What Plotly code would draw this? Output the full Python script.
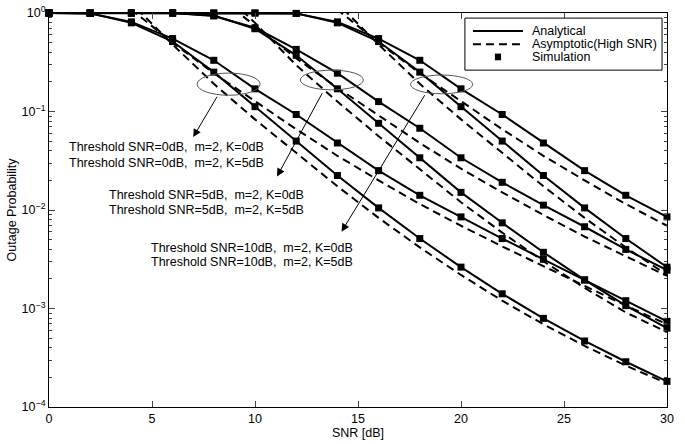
import plotly.graph_objects as go

# ---------------- data ----------------
snr = [0, 2, 4, 6, 8, 10, 12, 14, 16, 18, 20, 22, 24, 26, 28, 30]

# Analytical outage probability
t0_k0 = [1.0, 0.989, 0.813, 0.550, 0.331, 0.170, 0.0933, 0.0479, 0.0251, 0.0141, 0.00851, 0.00513, 0.00316, 0.00195, 0.00120, 0.000741]
t0_k5 = [1.0, 0.991, 0.794, 0.513, 0.251, 0.112, 0.0501, 0.0224, 0.0105, 0.00513, 0.00263, 0.00141, 0.000794, 0.000468, 0.000288, 0.000182]
t5_k0 = [1.0, 1.0, 1.0, 1.0, 0.933, 0.708, 0.427, 0.245, 0.126, 0.0676, 0.0339, 0.0191, 0.0112, 0.00676, 0.00398, 0.00245]
t5_k5 = [1.0, 1.0, 1.0, 1.0, 0.944, 0.692, 0.372, 0.170, 0.0759, 0.0339, 0.0151, 0.00741, 0.00372, 0.00195, 0.00107, 0.000631]
t10_k0 = [1.0, 1.0, 1.0, 1.0, 1.0, 1.0, 0.989, 0.813, 0.550, 0.331, 0.170, 0.0933, 0.0479, 0.0251, 0.0141, 0.00851]
t10_k5 = [1.0, 1.0, 1.0, 1.0, 1.0, 1.0, 0.991, 0.794, 0.513, 0.251, 0.112, 0.0501, 0.0224, 0.0105, 0.00513, 0.00263]

# Asymptotic (high SNR) approximation
a_t0_k0 = [None, 2.34, 1.072, 0.501, 0.245, 0.126, 0.0661, 0.0355, 0.0200, 0.0115, 0.00692, 0.00427, 0.00269, 0.00170, 0.00107, 0.000692]
a_t0_k5 = [None, 3.16, 1.259, 0.479, 0.191, 0.0832, 0.0380, 0.0174, 0.00832, 0.00417, 0.00219, 0.00120, 0.000692, 0.000417, 0.000263, 0.000174]
a_t5_k0 = [None, None, None, 3.55, 1.585, 0.741, 0.347, 0.174, 0.0912, 0.0479, 0.0263, 0.0151, 0.00891, 0.00537, 0.00339, 0.00214]
a_t5_k5 = [None, None, None, None, 1.995, 0.794, 0.295, 0.126, 0.0562, 0.0257, 0.0120, 0.00589, 0.00302, 0.00162, 0.000912, 0.000575]
a_t10_k0 = [None, None, None, None, None, None, 2.34, 1.072, 0.501, 0.245, 0.126, 0.0661, 0.0355, 0.0200, 0.0115, 0.00692]
a_t10_k5 = [None, None, None, None, None, None, 3.16, 1.259, 0.479, 0.191, 0.0832, 0.0380, 0.0174, 0.00832, 0.00417, 0.00219]

# Simulation points
s_t0_k0 = t0_k0
s_t0_k5 = t0_k5
s_t5_k0 = t5_k0
s_t5_k5 = t5_k5
s_t10_k0 = t10_k0
s_t10_k5 = t10_k5

analytic = [t0_k0, t0_k5, t5_k0, t5_k5, t10_k0, t10_k5]
asymptotic = [a_t0_k0, a_t0_k5, a_t5_k0, a_t5_k5, a_t10_k0, a_t10_k5]
simulation = [s_t0_k0, s_t0_k5, s_t5_k0, s_t5_k5, s_t10_k0, s_t10_k5]

legend_names = ["Analytical", "Asymptotic(High SNR)", "Simulation"]
y_tick_vals = [1e-4, 1e-3, 1e-2, 1e-1, 1]
y_tick_text = ["10<sup>\u22124</sup>", "10<sup>\u22123</sup>", "10<sup>\u22122</sup>", "10<sup>\u22121</sup>", "10<sup>0</sup>"]
y_minor_vals = [m * d for d in (1e-4, 1e-3, 1e-2, 1e-1) for m in range(2, 10)]
x_tick_vals = [0, 5, 10, 15, 20, 25, 30]

label_lines = [
    ["Threshold SNR=0dB,\u00a0 m=2, K=0dB", "Threshold SNR=0dB,\u00a0 m=2, K=5dB"],
    ["Threshold SNR=5dB,\u00a0 m=2, K=0dB", "Threshold SNR=5dB,\u00a0 m=2, K=5dB"],
    ["Threshold SNR=10dB,\u00a0 m=2, K=0dB", "Threshold SNR=10dB,\u00a0 m=2, K=5dB"],
]

FONT = "Liberation Sans, Arial, Helvetica, sans-serif"

fig = go.Figure()

for i, y in enumerate(analytic):
    fig.add_trace(go.Scatter(x=snr, y=y, mode="lines",
                             line=dict(color="black", width=2),
                             name=legend_names[0], showlegend=False))
for i, y in enumerate(asymptotic):
    fig.add_trace(go.Scatter(x=snr, y=y, mode="lines",
                             line=dict(color="black", width=2, dash="8px,5px"),
                             name=legend_names[1], showlegend=False, connectgaps=False))
for i, y in enumerate(simulation):
    fig.add_trace(go.Scatter(x=snr, y=y, mode="markers",
                             marker=dict(symbol="square", size=7, color="black"),
                             name=legend_names[2], showlegend=False, cliponaxis=False))


def py(v):
    """log10 value -> paper y"""
    return (v + 4.0) / 4.0


def px(x):
    return x / 30.0


# ellipses (paper coordinates)
ellipses = [(7.19, 10.25, -0.61, -0.835), (12.2, 15.26, -0.58, -0.78), (17.55, 20.57, -0.63, -0.82)]
for x0, x1, y0, y1 in ellipses:
    fig.add_shape(type="circle", xref="paper", yref="paper",
                  x0=px(x0), x1=px(x1), y0=py(y0), y1=py(y1),
                  line=dict(color="#555555", width=1), layer="above")

# arrows
arrows = [((7.0, -1.26), (8.2, -0.835)), ((11.07, -1.66), (13.3, -0.80)), ((14.2, -2.22), (18.28, -0.82))]
for (hx, hy), (tx, ty) in arrows:
    fig.add_annotation(x=hx, y=hy, ax=tx, ay=ty, xref="x", yref="y", axref="x", ayref="y",
                       text="", showarrow=True, arrowhead=2, arrowsize=1.6, arrowwidth=1,
                       arrowcolor="black")

# labels
label_pos = [(5.68, -1.362, -1.524), (7.63, -1.849, -2.0), (9.84, -2.386, -2.528)]
for (x, y1, y2), lines in zip(label_pos, label_lines):
    for yy, txt in zip((y1, y2), lines):
        fig.add_annotation(x=x, y=yy, xref="x", yref="y", text=txt, showarrow=False,
                           font=dict(size=12.5, color="black", family=FONT))

# legend box drawn manually (paper coordinates)
fig.add_shape(type="rect", xref="paper", yref="paper", x0=0.673, x1=0.992, y0=0.855, y1=0.987,
              line=dict(color="black", width=1), fillcolor="white", layer="above")
fig.add_shape(type="line", xref="paper", yref="paper", x0=0.686, x1=0.767, y0=0.954, y1=0.954,
              line=dict(color="black", width=2), layer="above")
fig.add_shape(type="line", xref="paper", yref="paper", x0=0.686, x1=0.767, y0=0.921, y1=0.921,
              line=dict(color="black", width=2, dash="8px,5px"), layer="above")
fig.add_shape(type="rect", xref="paper", yref="paper", x0=0.7215, x1=0.7315, y0=0.880, y1=0.897,
              line=dict(color="black", width=0), fillcolor="black", layer="above")
for yy, name in zip((0.954, 0.921, 0.888), legend_names):
    fig.add_annotation(x=0.778, y=yy, xref="paper", yref="paper", text=name, showarrow=False,
                       xanchor="left", yanchor="middle",
                       font=dict(size=12.5, color="black", family=FONT))

fig.update_layout(
    width=685, height=444,
    margin=dict(l=49, r=18, t=13, b=37),
    paper_bgcolor="white", plot_bgcolor="white",
    font=dict(family=FONT, size=12, color="black"),
    showlegend=False,
)
fig.update_xaxes(range=[0, 30], tickvals=x_tick_vals, ticks="inside", ticklen=6,
                 showline=True, linecolor="black", linewidth=1, mirror="ticks",
                 showgrid=False, zeroline=False, automargin=False,
                 title=dict(text="SNR [dB]", standoff=0, font=dict(size=12.5)),
                 tickfont=dict(size=12.5))
fig.update_yaxes(type="log", range=[-4, 0], tickvals=y_tick_vals, ticktext=y_tick_text,
                 ticks="inside", ticklen=6, ticklabeloverflow="allow",
                 showline=True, linecolor="black", linewidth=1, mirror="ticks",
                 showgrid=False, zeroline=False, automargin=False,
                 minor=dict(tickmode="array", tickvals=y_minor_vals, ticks="inside",
                            ticklen=3, showgrid=False),
                 title=dict(text="Outage Probability", standoff=2, font=dict(size=12.5)),
                 tickfont=dict(size=12.5))

# remove the browser's default 8px body margin so the figure fills the window exactly
fig.write_html("out.html", config={"displayModeBar": False},
               post_script="document.body.style.margin='0px';")
